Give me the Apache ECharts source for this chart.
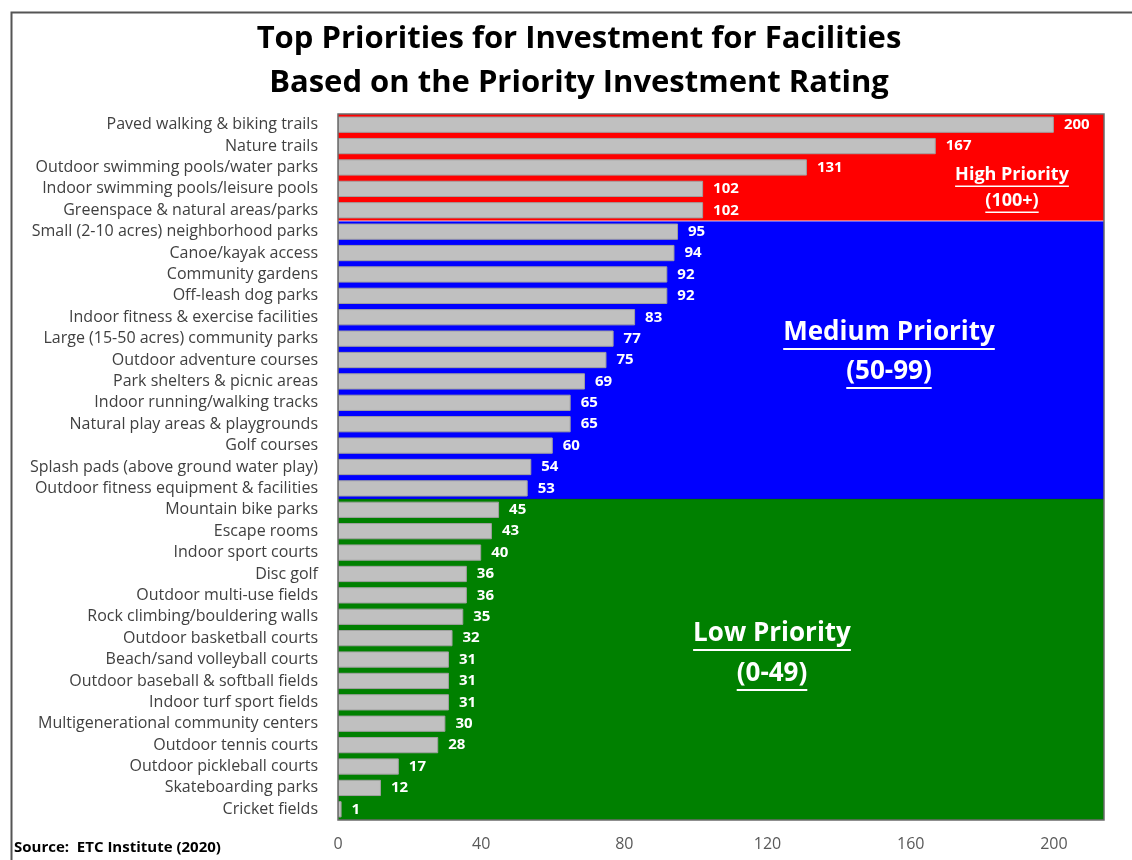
<!DOCTYPE html>
<html>
<head>
<meta charset="utf-8">
<script src="https://cdn.jsdelivr.net/npm/echarts@6/dist/echarts.min.js"></script>
<style>
html,body{margin:0;padding:0;background:#fff;}
#c{width:1132px;height:860px;}
</style>
</head>
<body>
<div id="c"></div>
<script>
const titleLines = ['Top Priorities for Investment for Facilities', 'Based on the Priority Investment Rating'];
const categories = [
  'Paved walking & biking trails',
  'Nature trails',
  'Outdoor swimming pools/water parks',
  'Indoor swimming pools/leisure pools',
  'Greenspace & natural areas/parks',
  'Small (2-10 acres) neighborhood parks',
  'Canoe/kayak access',
  'Community gardens',
  'Off-leash dog parks',
  'Indoor fitness & exercise facilities',
  'Large (15-50 acres) community parks',
  'Outdoor adventure courses',
  'Park shelters & picnic areas',
  'Indoor running/walking tracks',
  'Natural play areas & playgrounds',
  'Golf courses',
  'Splash pads (above ground water play)',
  'Outdoor fitness equipment & facilities',
  'Mountain bike parks',
  'Escape rooms',
  'Indoor sport courts',
  'Disc golf',
  'Outdoor multi-use fields',
  'Rock climbing/bouldering walls',
  'Outdoor basketball courts',
  'Beach/sand volleyball courts',
  'Outdoor baseball & softball fields',
  'Indoor turf sport fields',
  'Multigenerational community centers',
  'Outdoor tennis courts',
  'Outdoor pickleball courts',
  'Skateboarding parks',
  'Cricket fields'
];
const values = [200,167,131,102,102,95,94,92,92,83,77,75,69,65,65,60,54,53,45,43,40,36,36,35,32,31,31,31,30,28,17,12,1];
const xTickLabels = [0,40,80,120,160,200];
const zoneMinimums = [100, 50, 0];
const zoneColors = ['#ff0000', '#0000ff', '#008000'];
const zoneTitles = ['High Priority', 'Medium Priority', 'Low Priority'];
const zoneRanges = ['(100+)', '(50-99)', '(0-49)'];
const sourceText = 'Source:  ETC Institute (2020)';

const FONT = '"Open Sans", "Noto Sans", sans-serif';

// zone index ranges derived from values
const zones = zoneMinimums.map((mn, zi) => {
  const upper = zi === 0 ? Infinity : zoneMinimums[zi - 1];
  const idx = values.map((v, i) => (v >= mn && v < upper) ? i : -1).filter(i => i >= 0);
  return [0, Math.min(...idx), Math.max(...idx), zi];
});

const chart = echarts.init(document.getElementById('c'), null, {renderer: 'canvas'});

const mctx = document.createElement('canvas').getContext('2d');
function textWidth(t, font) { mctx.font = font; return mctx.measureText(t).width; }

const annotations = [
  {zi: 0, x: 1012, y1: 175, y2: 201, size: 18},
  {zi: 1, x: 889, y1: 333, y2: 372, size: 26},
  {zi: 2, x: 772, y1: 634, y2: 674, size: 26}
];
const graphics = [];
// outer frame
graphics.push({type: 'rect', left: 9, top: 10, shape: {x: 0, y: 0, width: 1140, height: 900},
  style: {fill: 'none', stroke: '#555555', lineWidth: 2}, silent: true, z: 100});
titleLines.forEach((t, i) => {
  graphics.push({type: 'text', x: 579, y: 39 + i * 44, z: 100,
    style: {text: t, fill: '#000', font: 'bold 31px ' + FONT, align: 'center', verticalAlign: 'middle'}});
});
graphics.push({type: 'text', x: 14, y: 848, z: 100,
  style: {text: sourceText, fill: '#000', font: 'bold 15px ' + FONT, align: 'left', verticalAlign: 'middle'}});
annotations.forEach(a => {
  const font = 'bold ' + a.size + 'px ' + FONT;
  [[zoneTitles[a.zi], a.y1], [zoneRanges[a.zi], a.y2]].forEach(([t, y]) => {
    graphics.push({type: 'text', x: a.x, y: y, z: 100,
      style: {text: t, fill: '#fff', font: font, align: 'center', verticalAlign: 'middle'}});
    const w = textWidth(t, font);
    const uy = y + a.size * 0.62;
    graphics.push({type: 'line', z: 100, shape: {x1: a.x - w / 2, y1: uy, x2: a.x + w / 2, y2: uy},
      style: {stroke: '#fff', lineWidth: a.size > 20 ? 2 : 1.5}});
  });
});

chart.setOption({
  animation: false,
  grid: {left: 338, right: 28, top: 114, bottom: 40, containLabel: false},
  xAxis: {
    type: 'value', min: 0, max: 214, interval: 40,
    splitLine: {show: false}, axisLine: {show: false}, axisTick: {show: false},
    axisLabel: {
      color: '#595959', fontSize: 16, fontFamily: FONT, margin: 16, showMaxLabel: false,
      formatter: v => xTickLabels.indexOf(v) >= 0 ? String(v) : ''
    }
  },
  yAxis: {
    type: 'category', inverse: true, data: categories,
    axisLine: {show: false}, axisTick: {show: false}, splitLine: {show: false},
    axisLabel: {color: '#404040', fontSize: 16, fontFamily: FONT, margin: 20, interval: 0}
  },
  graphic: graphics,
  series: [
    {
      type: 'custom', z: 1, silent: true,
      encode: {x: 0, y: 1},
      data: zones,
      renderItem: (params, api) => {
        const cs = params.coordSys;
        const band = api.size([0, 1])[1];
        const top = api.coord([0, api.value(1)])[1] - band / 2;
        const bottom = api.coord([0, api.value(2)])[1] + band / 2;
        const zi = api.value(3);
        const children = [{type: 'rect', shape: {x: cs.x, y: top, width: cs.width, height: bottom - top},
          style: {fill: zoneColors[zi]}}];
        if (zi > 0) {
          children.push({type: 'line', shape: {x1: cs.x, y1: top, x2: cs.x + cs.width, y2: top},
            style: {stroke: zi === 1 ? '#ffffff' : '#004000', lineWidth: 1, opacity: zi === 1 ? 0.8 : 0.3}});
        }
        return {type: 'group', children: children};
      },
      clip: false
    },
    {
      type: 'bar', z: 3, data: values, barCategoryGap: '24%',
      itemStyle: {color: '#c0c0c0', borderColor: '#a0a0a0', borderWidth: 1},
      label: {show: true, position: 'right', distance: 10, color: '#fff', fontWeight: 'bold',
        fontSize: 15, fontFamily: FONT}
    },
    {
      type: 'custom', z: 5, silent: true,
      encode: {x: 0, y: 1},
      data: [[0, 0]],
      renderItem: (params, api) => {
        const cs = params.coordSys;
        return {type: 'rect', shape: {x: cs.x, y: cs.y, width: cs.width, height: cs.height},
          style: {fill: 'none', stroke: '#6b6b6b', lineWidth: 1.5}};
      },
      clip: false
    }
  ]
});
</script>
</body>
</html>
